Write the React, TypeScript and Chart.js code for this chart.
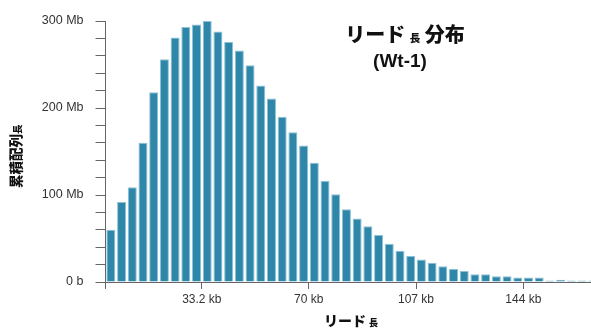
import React, { useEffect, useRef } from "react";
import { Chart, registerables } from "chart.js";

Chart.register(...registerables);

// bin width of the histogram in kb
const binWidthKb = 3.69;
// cumulative sequence length per bin (Mb)
const binValuesMb = [
  60, 92, 109, 160, 218, 256, 281, 293, 296, 300,
  288, 276, 266, 249, 226, 211, 190, 172, 157, 137,
  116, 101, 83.5, 73, 64, 54, 44, 36, 30, 26,
  22, 18, 15, 12.6, 8.8, 8.8, 6.5, 6.5, 5.2, 5.2,
  5.2, 1.8, 2.6, 1.8, 1.8, 1.8,
];
const xTickValuesKb = [0, 33.2, 70, 107, 144];
const xTickLabels = ["", "33.2 kb", "70 kb", "107 kb", "144 kb"];
const yTickValuesMb = [0, 100, 200, 300];
const yTickLabels = ["0 b", "100 Mb", "200 Mb", "300 Mb"];
const xMaxKb = 167.3;
const yMaxMb = 300;
const yStepMb = 20;

const titleLine1 = [
  { t: "リード", big: true },
  { t: " ", big: true },
  { t: "長", big: false },
  { t: " ", big: true },
  { t: "分布", big: true },
];
const titleLine2 = "(Wt-1)";
const yTitle = [
  { t: "累積配列", big: true },
  { t: "長", big: false },
];
const xTitle = [
  { t: "リード", big: true },
  { t: " ", big: true },
  { t: "長", big: false },
];

const FONT = "'Liberation Sans', 'Noto Sans CJK JP', Arial, sans-serif";
const CJK = "'Noto Sans CJK JP', 'Liberation Sans', sans-serif";

type Seg = { t: string; big: boolean };

function drawSegs(
  ctx: CanvasRenderingContext2D,
  segs: Seg[],
  x: number,
  y: number,
  bigSize: number,
  smallSize: number,
  align: "center" | "left"
) {
  const fontOf = (s: Seg) => `900 ${s.big ? bigSize : smallSize}px ${CJK}`;
  let total = 0;
  const widths = segs.map((s) => {
    ctx.font = fontOf(s);
    const w = ctx.measureText(s.t).width;
    total += w;
    return w;
  });
  let cx = align === "center" ? x - total / 2 : x;
  ctx.textAlign = "left";
  ctx.textBaseline = "alphabetic";
  segs.forEach((s, i) => {
    ctx.font = fontOf(s);
    ctx.fillText(s.t, cx, y);
    cx += widths[i];
  });
}

const titlesPlugin = {
  id: "titles",
  afterDraw(chart: any) {
    const ctx: CanvasRenderingContext2D = chart.ctx;
    ctx.save();
    ctx.fillStyle = "#111";
    // main title
    drawSegs(ctx, titleLine1, 405, 42, 20, 10.5, "center");
    ctx.font = `bold 19px ${FONT}`;
    ctx.textAlign = "center";
    ctx.textBaseline = "alphabetic";
    ctx.fillText(titleLine2, 400, 67);
    // x title
    drawSegs(ctx, xTitle, 351, 326, 14, 9, "center");
    // y title (rotated)
    ctx.save();
    ctx.translate(21, 188);
    ctx.rotate(-Math.PI / 2);
    drawSegs(ctx, yTitle, 0, 0, 13.5, 9.5, "left");
    ctx.restore();
    ctx.restore();
  },
};

export default function App() {
  const ref = useRef<HTMLCanvasElement | null>(null);

  useEffect(() => {
    if (!ref.current) return;
    const data = binValuesMb.map((v, i) => ({ x: (i + 0.5) * binWidthKb, y: v }));
    const chart = new Chart(ref.current, {
      type: "bar",
      data: {
        datasets: [
          {
            data,
            backgroundColor: "#2E86A8",
            borderColor: "#8cc2d6",
            borderWidth: 1,
            categoryPercentage: 1,
            barPercentage: 0.84,
          } as any,
        ],
      },
      options: {
        animation: false,
        responsive: false,
        layout: { padding: { top: 21, right: 0, left: 0, bottom: 0 } },
        plugins: { legend: { display: false }, tooltip: { enabled: false } },
        scales: {
          x: {
            type: "linear",
            min: 0,
            max: xMaxKb,
            offset: false,
            afterBuildTicks: (scale: any) => {
              scale.ticks = xTickValuesKb.map((v) => ({ value: v }));
            },
            afterFit: (scale: any) => {
              scale.height = 47;
            },
            grid: {
              offset: false,
              drawOnChartArea: false,
              drawTicks: true,
              tickLength: 7,
              color: "#666",
            },
            border: { color: "#666", width: 1 },
            ticks: {
              autoSkip: false,
              maxRotation: 0,
              padding: 3,
              color: "#333",
              font: { size: 12, family: FONT },
              callback: (_v: any, i: number) => xTickLabels[i] ?? "",
            },
          },
          y: {
            type: "linear",
            min: 0,
            max: yMaxMb,
            afterFit: (scale: any) => {
              scale.width = 105.5;
            },
            grid: {
              offset: false,
              drawOnChartArea: false,
              drawTicks: true,
              tickLength: 10,
              color: "#666",
            },
            border: { color: "#666", width: 1 },
            ticks: {
              stepSize: yStepMb,
              autoSkip: false,
              padding: 12,
              color: "#333",
              font: { size: 12.5, family: FONT },
              callback: (v: any) => {
                const k = yTickValuesMb.indexOf(Number(v));
                return k >= 0 ? yTickLabels[k] : "";
              },
            },
          },
        },
      },
      plugins: [titlesPlugin],
    });
    return () => chart.destroy();
  }, []);

  return (
    <div style={{ position: "absolute", left: 0, top: 0, width: 591, height: 329, background: "#fff" }}>
      <canvas ref={ref} width={591} height={329} style={{ display: "block" }} />
    </div>
  );
}
